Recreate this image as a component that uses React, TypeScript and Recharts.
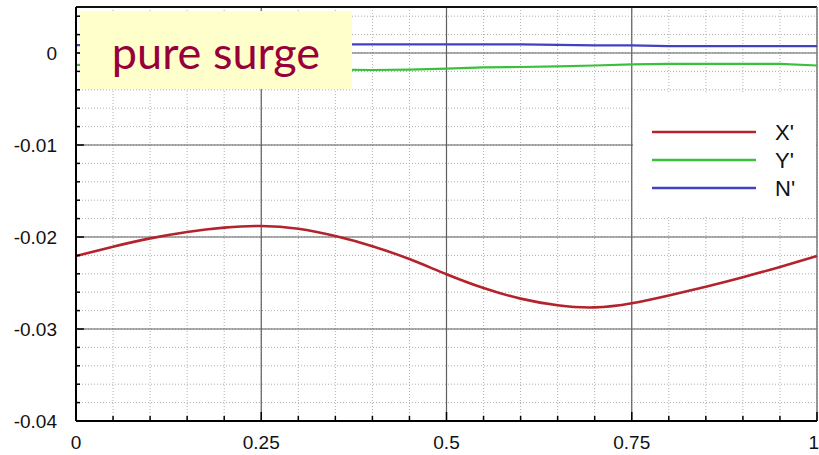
import React from 'react';
import { LineChart, Line, XAxis, YAxis, CartesianGrid, ReferenceLine, Legend } from 'recharts';

// Non-dimensional time over one surge period
const phase = [0, 0.05, 0.1, 0.15, 0.2, 0.25, 0.3, 0.35, 0.4, 0.45, 0.5, 0.55, 0.6, 0.65, 0.7, 0.75, 0.8, 0.85, 0.9, 0.95, 1];

// Surge force X'
const surgeX = [
  -0.02206, -0.02105, -0.02015, -0.01945, -0.01898, -0.0188, -0.0191, -0.0199, -0.021, -0.0224, -0.02405,
  -0.02555, -0.0267, -0.02742, -0.02765, -0.0272, -0.02635, -0.0254, -0.02437, -0.02325, -0.02206,
];

// Sway force Y'
const swayY = [
  -0.0013, -0.00138, -0.00146, -0.00154, -0.00162, -0.0017, -0.00176, -0.0018, -0.00185, -0.0018, -0.00169,
  -0.00157, -0.00152, -0.00146, -0.00136, -0.00124, -0.00118, -0.00118, -0.00118, -0.00119, -0.00136,
];

// Yaw moment N'
const yawN = [
  0.00086, 0.00088, 0.0009, 0.00093, 0.00093, 0.00093, 0.00093, 0.00093, 0.00093, 0.00093, 0.00093,
  0.00093, 0.00093, 0.00088, 0.00082, 0.00082, 0.00075, 0.00074, 0.00074, 0.00074, 0.00074,
];

const seriesNames = ["X'", "Y'", "N'"];
const seriesColors = ['#b3232b', '#3cc03c', '#4141c4'];

const xMajorTicks = [0, 0.25, 0.5, 0.75, 1];
const xTickLabels = ['0', '0.25', '0.5', '0.75', '1'];
const yMajorTicks = [-0.04, -0.03, -0.02, -0.01, 0];
const yTickLabels = ['-0.04', '-0.03', '-0.02', '-0.01', '0'];

const xDomain: [number, number] = [0, 1];
const yDomain: [number, number] = [-0.04, 0.005];
const xMinorStep = 0.05;
const yMinorStep = 0.002;

const xTicks = Array.from({ length: 21 }, (_, i) => +(xDomain[0] + i * xMinorStep).toFixed(3));
const yTicks = Array.from({ length: 23 }, (_, i) => +(yDomain[0] + i * yMinorStep).toFixed(4));

const rows = phase.map((p, i) => ({ phase: p, X: surgeX[i], Y: swayY[i], N: yawN[i] }));

const labelFont = '"Liberation Sans", Arial, sans-serif';

const majorIndex = (list: number[], v: number) => list.findIndex((m) => Math.abs(m - v) < 1e-9);

function XTick(props: any) {
  const { x, y, payload } = props;
  const idx = majorIndex(xMajorTicks, payload.value);
  const major = idx >= 0;
  const last = idx === xMajorTicks.length - 1;
  return (
    <g>
      <line x1={x} x2={x} y1={y} y2={y - (major ? 9 : 5)} stroke="#000" strokeWidth={1.5} />
      {major && (
        <text
          x={last ? x + 2 : x}
          y={y + 28}
          textAnchor={last ? 'end' : 'middle'}
          fontFamily={labelFont}
          fontSize={19}
          fill="#111"
        >
          {xTickLabels[idx]}
        </text>
      )}
    </g>
  );
}

function YTick(props: any) {
  const { x, y, payload } = props;
  const idx = majorIndex(yMajorTicks, payload.value);
  const major = idx >= 0;
  return (
    <g>
      <line x1={x} x2={x + (major ? 8 : 4)} y1={y} y2={y} stroke="#000" strokeWidth={1.5} />
      {major && (
        <text x={x - 19} y={y} dy="0.36em" textAnchor="end" fontFamily={labelFont} fontSize={19} fill="#111">
          {yTickLabels[idx]}
        </text>
      )}
    </g>
  );
}

function LegendBox(props: any) {
  const items = [...(props.payload || [])].sort(
    (a: any, b: any) => seriesNames.indexOf(a.value) - seriesNames.indexOf(b.value)
  );
  return (
    <svg width={183} height={125} style={{ display: 'block', background: '#fff' }}>
      {items.map((item: any, i: number) => {
        const cy = 40 + i * 28;
        return (
          <g key={item.value}>
            <line x1={19} x2={123} y1={cy} y2={cy} stroke={item.color} strokeWidth={2.5} />
            <text x={142} y={cy} dy="0.36em" fontFamily={labelFont} fontSize={22} fill="#111">
              {item.value}
            </text>
          </g>
        );
      })}
    </svg>
  );
}

export default function App() {
  return (
    <div style={{ position: 'absolute', left: 0, top: 0, width: 819, height: 455, background: '#fff' }}>
      <LineChart width={819} height={455} data={rows} margin={{ top: 7, right: 2, bottom: 0, left: 0 }}>
        <CartesianGrid stroke="#b0b0b0" strokeDasharray="1 2" />
        {xMajorTicks.slice(1, -1).map((v) => (
          <ReferenceLine key={`vx${v}`} x={v} stroke="#5e5e5e" strokeWidth={1.2} />
        ))}
        {yMajorTicks.slice(1).map((v) => (
          <ReferenceLine key={`hy${v}`} y={v} stroke="#5e5e5e" strokeWidth={1.2} />
        ))}
        <ReferenceLine y={yDomain[1]} stroke="#111" strokeWidth={2} />
        <ReferenceLine x={xDomain[1]} stroke="#777" strokeWidth={1.5} />
        <XAxis
          dataKey="phase"
          type="number"
          domain={xDomain}
          ticks={xTicks}
          interval={0}
          tickSize={0}
          tickMargin={0}
          tickLine={false}
          tick={(p: any) => <XTick {...p} />}
          height={34}
          axisLine={{ stroke: '#000', strokeWidth: 2 }}
        />
        <YAxis
          type="number"
          domain={yDomain}
          ticks={yTicks}
          interval={0}
          width={76}
          tickSize={0}
          tickMargin={0}
          tickLine={false}
          tick={(p: any) => <YTick {...p} />}
          axisLine={{ stroke: '#000', strokeWidth: 2 }}
          allowDataOverflow
        />
        <Line dataKey="X" name={seriesNames[0]} stroke={seriesColors[0]} strokeWidth={2.6} dot={false} type="natural" isAnimationActive={false} />
        <Line dataKey="Y" name={seriesNames[1]} stroke={seriesColors[1]} strokeWidth={2.2} dot={false} type="linear" isAnimationActive={false} />
        <Line dataKey="N" name={seriesNames[2]} stroke={seriesColors[2]} strokeWidth={2.2} dot={false} type="linear" isAnimationActive={false} />
        <Legend
          layout="vertical"
          align="center"
          verticalAlign="middle"
          wrapperStyle={{ left: 633, top: 92, width: 183, height: 125 }}
          content={(p: any) => <LegendBox {...p} />}
        />
      </LineChart>
      <div
        style={{
          position: 'absolute',
          left: 80,
          top: 11,
          width: 272,
          height: 78,
          background: '#ffffcc',
          display: 'flex',
          alignItems: 'center',
          justifyContent: 'center',
          fontFamily: 'Lato, "Open Sans", sans-serif',
          fontSize: 45,
          color: '#98003a',
          lineHeight: 1,
          paddingTop: 4,
          boxSizing: 'border-box',
        }}
      >
        pure surge
      </div>
    </div>
  );
}
